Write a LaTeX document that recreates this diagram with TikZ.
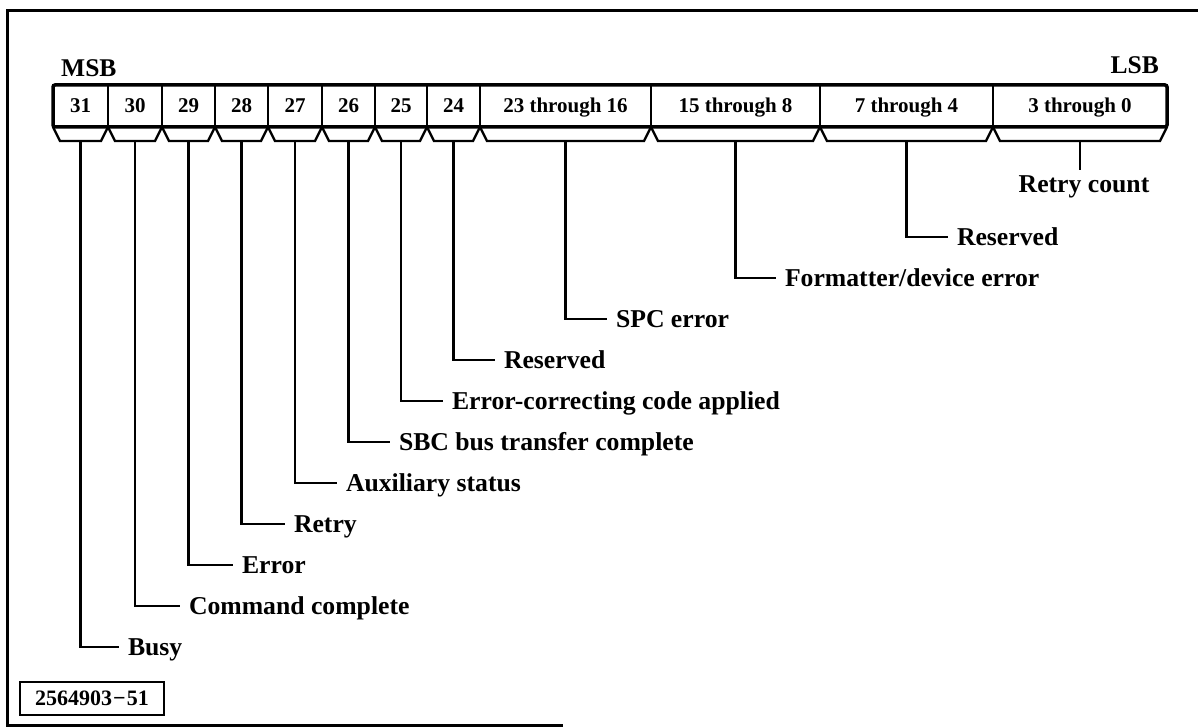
\documentclass[tikz,border=0pt]{standalone}
\usepackage{fontspec}
\setmainfont{Liberation Serif}
\begin{document}
\begin{tikzpicture}[x=1pt,y=-1pt,
  cell/.style={draw, line width=2pt, inner sep=0pt, minimum height=42pt,
    font=\fontsize{21}{24}\selectfont\bfseries, text height=14pt, text depth=0pt},
  lab/.style={inner sep=0pt, outer xsep=9pt, anchor=west,
    font=\fontsize{25.7}{30}\selectfont\bfseries, text height=17pt, text depth=0pt},
  lead/.style={line width=2.5pt},
  tab/.style={line width=2.3pt, line join=miter}]
\useasboundingbox (0,0) rectangle (1198,727);

% outer frame (open on the right)
\draw[line width=3pt] (1198,11) -- (7,11) -- (7,725) -- (563,725);

% register cells
\foreach \a/\b/\t/\n in {53/108/31/c31, 108/162/30/c30, 162/215/29/c29,
    215/268/28/c28, 268/322/27/c27, 322/375/26/c26, 375/427/25/c25,
    427/480/24/c24, 480/651/23 through 16/c16, 651/820/15 through 8/c8,
    820/993/7 through 4/c4, 993/1167/3 through 0/c0} {
  \node[cell, minimum width={\b pt-\a pt}] (\n) at ({(\a+\b)/2},106) {\t};
  \draw[tab] (\a,127) -- ({\a+7},141) -- ({\b-7},141) -- (\b,127);
}
\draw[line width=3.5pt, rounded corners=2pt] (53,85) rectangle (1167,127);

\node[inner sep=0pt, anchor=base west, font=\fontsize{25.5}{30}\selectfont\bfseries] (msb) at (61,77) {MSB};
\node[inner sep=0pt, anchor=base east, font=\fontsize{25.5}{30}\selectfont\bfseries] (lsb) at (1159,74) {LSB};

% field labels
\node[lab] (busy)  at (119,647) {Busy};
\node[lab] (cmd)   at (180,606) {Command complete};
\node[lab] (err)   at (233,565) {Error};
\node[lab] (rtry)  at (285,524) {Retry};
\node[lab] (aux)   at (337,483) {Auxiliary status};
\node[lab] (sbc)   at (390,442) {SBC bus transfer complete};
\node[lab] (ecc)   at (443,401) {Error-correcting code applied};
\node[lab] (res24) at (495,360) {Reserved};
\node[lab] (spc)   at (607,319) {SPC error};
\node[lab] (fmt)   at (776,278) {Formatter/device error};
\node[lab] (res4)  at (948,237) {Reserved};
\node[inner sep=0pt, outer ysep=6pt, anchor=north, text height=17pt, text depth=0pt,
  font=\fontsize{25.7}{30}\selectfont\bfseries] (rcnt) at (1084,170) {Retry count};

% leaders
\foreach \c/\l in {c31/busy, c30/cmd, c29/err, c28/rtry, c27/aux, c26/sbc,
    c25/ecc, c24/res24, c16/spc, c8/fmt, c4/res4} {
  \draw[lead] ([yshift=-14pt]\c.south) |- (\l);
}
\draw[lead] ([yshift=-14pt]c0.south) -- (c0.south |- rcnt.north);

% drawing number
\node[draw, line width=2pt, minimum width=144pt, minimum height=33pt, inner sep=0pt,
  font=\fontsize{22}{26}\selectfont\bfseries] (dwg) at (92,698.5) {2564903\kern1pt−\kern1pt51};
\end{tikzpicture}
\end{document}
